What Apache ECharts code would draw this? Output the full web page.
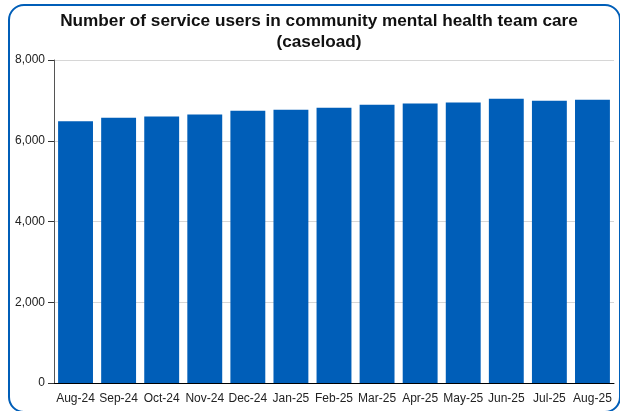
<!DOCTYPE html>
<html lang="en">
<head>
  <meta charset="UTF-8">
  <title>Community mental health team caseload</title>
  <script src="https://cdn.jsdelivr.net/npm/echarts@6/dist/echarts.min.js"></script>
  <style>
    body { margin: 0; background: #fff; }
    #frame { position: absolute; left: 8px; top: 4px; width: 613px; height: 409px;
             border: 2px solid #005EB8; border-radius: 16px; box-sizing: border-box; }
    #main { position: absolute; left: 0; top: 0; width: 620px; height: 411px; }
  </style>
</head>
<body>
<div id="frame"></div>
<div id="main"></div>
<script type="text/javascript">
  var months = ['Aug-24', 'Sep-24', 'Oct-24', 'Nov-24', 'Dec-24', 'Jan-25', 'Feb-25',
                'Mar-25', 'Apr-25', 'May-25', 'Jun-25', 'Jul-25', 'Aug-25'];
  var caseload = [6480, 6570, 6600, 6650, 6745, 6770, 6820, 6890, 6920, 6945, 7040, 6990, 7015];

  var myChart = echarts.init(document.getElementById('main'));
  var option = {
    animation: false,
    title: {
      text: 'Number of service users in community mental health team care\n(caseload)',
      left: 314,
      top: 6,
      textAlign: 'center',
      textStyle: {
        fontFamily: 'Liberation Sans, Arial, sans-serif',
        fontSize: 17.2,
        fontWeight: 'bold',
        color: '#111',
        lineHeight: 21
      }
    },
    grid: { left: 54, right: 6, top: 60, bottom: 28, containLabel: false },
    xAxis: {
      type: 'category',
      data: months,
      axisLine: { lineStyle: { color: '#000', width: 1 } },
      axisTick: { alignWithLabel: true, length: 5, lineStyle: { color: '#000' } },
      axisLabel: {
        interval: 0, margin: 10, color: '#222', fontSize: 12,
        fontFamily: 'Liberation Sans, Arial, sans-serif'
      }
    },
    yAxis: {
      type: 'value',
      min: 0,
      max: 8000,
      interval: 2000,
      axisLine: { show: true, lineStyle: { color: '#555', width: 1 } },
      axisTick: { show: true, length: 6, lineStyle: { color: '#333' } },
      axisLabel: {
        margin: 9, color: '#222', fontSize: 12,
        fontFamily: 'Liberation Sans, Arial, sans-serif',
        formatter: function (v) { return v.toLocaleString('en-GB'); }
      },
      splitLine: { lineStyle: { color: '#d6d6d6', width: 1 } }
    },
    series: [
      {
        type: 'bar',
        data: caseload,
        barCategoryGap: '19%',
        itemStyle: { color: '#005EB8' }
      }
    ]
  };
  myChart.setOption(option);
</script>
</body>
</html>
